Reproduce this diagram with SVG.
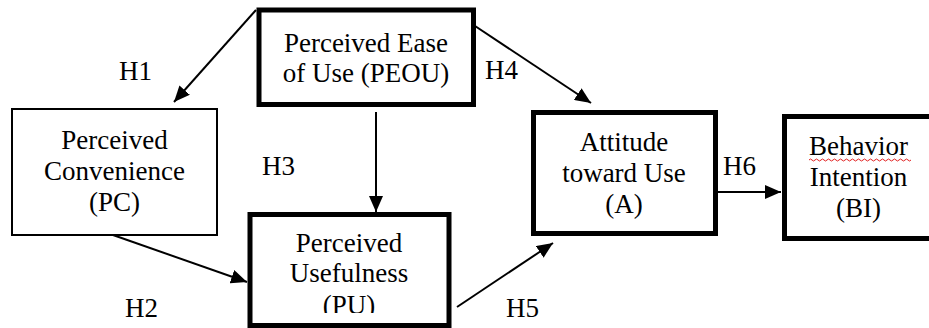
<svg xmlns="http://www.w3.org/2000/svg" width="929" height="328" viewBox="0 0 929 328" font-family="'Liberation Serif', 'DejaVu Serif', serif">
<style>
text{font-family:'Liberation Serif','DejaVu Serif',serif;font-size:27px;fill:#000}
.c{text-anchor:middle}
.thick{fill:#fff;stroke:#000;stroke-width:5}
.thin{fill:#fff;stroke:#000;stroke-width:2}
.edge{stroke:#000;stroke-width:2;fill:none;marker-end:url(#ah)}
</style>
<defs>
<marker id="ah" markerUnits="userSpaceOnUse" markerWidth="18" markerHeight="14" refX="16" refY="7" orient="auto">
<path d="M0,0 L16,7 L0,14 Z" fill="#000"/>
</marker>
<clipPath id="puclip"><rect x="250" y="214" width="200" height="99"/></clipPath>
</defs>
<rect width="929" height="328" fill="#fff"/>
<g id="connectors">
<line class="edge" x1="256" y1="10" x2="174" y2="102"/>
<line class="edge" x1="376" y1="112" x2="376" y2="212"/>
<line class="edge" x1="113" y1="235" x2="247" y2="282"/>
<line class="edge" x1="469" y1="22" x2="591" y2="103"/>
<line class="edge" x1="457" y1="307" x2="553" y2="243"/>
<line class="edge" x1="708" y1="192" x2="781" y2="192"/>
</g>
<g id="PEOU">
<rect class="thick" x="259" y="10" width="214.5" height="94.5"/>
<text class="c" x="366" y="52">Perceived Ease</text>
<text class="c" x="366" y="82">of Use (PEOU)</text>
</g>
<g id="PC">
<rect class="thin" x="12" y="109" width="205" height="126"/>
<text class="c" x="114.5" y="149">Perceived</text>
<text class="c" x="114.5" y="180">Convenience</text>
<text class="c" x="114.5" y="211">(PC)</text>
</g>
<g id="PU">
<rect class="thick" x="250" y="214.5" width="199" height="111"/>
<text class="c" x="349" y="252">Perceived</text>
<text class="c" x="349" y="282">Usefulness</text>
<text class="c" x="349" y="314" clip-path="url(#puclip)">(PU)</text>
</g>
<g id="A">
<rect class="thick" x="533.5" y="112.5" width="182" height="121"/>
<text class="c" x="624" y="151">Attitude</text>
<text class="c" x="624" y="182">toward Use</text>
<text class="c" x="624" y="213">(A)</text>
</g>
<g id="BI">
<rect class="thick" x="784.5" y="116.5" width="160" height="122"/>
<text class="c" x="858.5" y="155">Behavior</text>
<path d="M809,160 q1.5,-2 3,0 t3,0 t3,0 t3,0 t3,0 t3,0 t3,0 t3,0 t3,0 t3,0 t3,0 t3,0 t3,0 t3,0 t3,0 t3,0 t3,0 t3,0 t3,0 t3,0 t3,0 t3,0 t3,0 t3,0 t3,0 t3,0 t3,0 t3,0 t3,0 t3,0 t3,0 t3,0 t3,0 t3,0" fill="none" stroke="#e02020" stroke-width="1"/>
<text class="c" x="858.5" y="186">Intention</text>
<text class="c" x="858.5" y="217">(BI)</text>
</g>
<g id="labels">
<text x="119" y="80">H1</text>
<text x="262" y="175">H3</text>
<text x="125" y="317">H2</text>
<text x="485" y="79">H4</text>
<text x="506" y="317">H5</text>
<text x="723" y="175">H6</text>
</g>
</svg>
